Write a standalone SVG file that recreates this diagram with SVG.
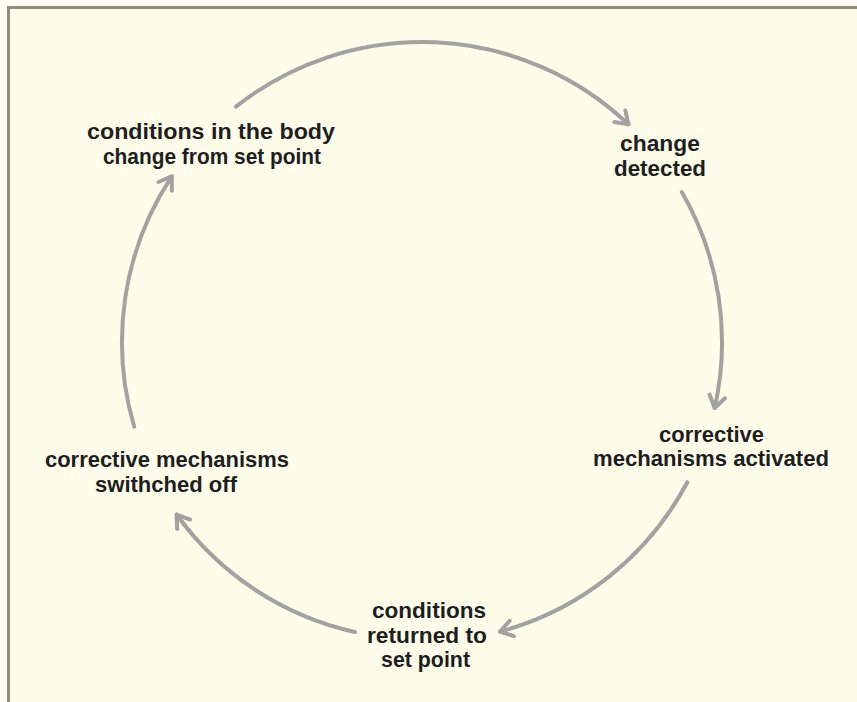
<svg xmlns="http://www.w3.org/2000/svg" width="857" height="702" viewBox="0 0 857 702">
<style>
.lbl{font-family:"Liberation Sans",Arial,sans-serif;font-weight:bold;font-size:22px;fill:#1e1e1e;text-anchor:middle}
.arc{fill:none;stroke:#a2a2a0;stroke-width:4;stroke-linecap:round}
.frame{stroke:#8e8e7c;stroke-width:3;fill:none}
</style>
<defs>
<marker id="chev" markerUnits="userSpaceOnUse" markerWidth="30" markerHeight="30" refX="0" refY="0" viewBox="-15 -15 30 30" orient="auto" overflow="visible">
<path d="M -12,-8 L 0,0 L -12,8" fill="none" stroke="#a2a2a0" stroke-width="4" stroke-linecap="round" stroke-linejoin="round"/>
</marker>
</defs>
<rect x="0" y="0" width="857" height="702" fill="#fefef4"/>
<rect x="8" y="7" width="849" height="695" fill="#fdfde9"/>
<path class="frame" d="M 8.5,702 L 8.5,7.5 L 857,7.5"/>
<g id="connectors">
<path class="arc" marker-end="url(#chev)" d="M 236,106.6 A 300 300 0 0 1 628.5,124.4"/>
<path class="arc" marker-end="url(#chev)" d="M 681.8,192 A 300 300 0 0 1 714.7,408"/>
<path class="arc" marker-end="url(#chev)" d="M 687.3,482.2 A 300 300 0 0 1 500.1,631.6"/>
<path class="arc" marker-end="url(#chev)" d="M 355,632 A 300 300 0 0 1 176.6,514.5"/>
<path class="arc" marker-end="url(#chev)" d="M 134.2,426.7 A 300 300 0 0 1 171.8,176.4"/>
</g>
<g id="node-conditions-change">
<text class="lbl" x="211" y="139" textLength="248" lengthAdjust="spacingAndGlyphs">conditions in the body</text>
<text class="lbl" x="212" y="164" textLength="218" lengthAdjust="spacingAndGlyphs">change from set point</text>
</g>
<g id="node-change-detected">
<text class="lbl" x="660" y="151" textLength="80" lengthAdjust="spacingAndGlyphs">change</text>
<text class="lbl" x="660" y="176" textLength="92" lengthAdjust="spacingAndGlyphs">detected</text>
</g>
<g id="node-mechanisms-activated">
<text class="lbl" x="711.5" y="442" textLength="105" lengthAdjust="spacingAndGlyphs">corrective</text>
<text class="lbl" x="711" y="466" textLength="236" lengthAdjust="spacingAndGlyphs">mechanisms activated</text>
</g>
<g id="node-returned">
<text class="lbl" x="429" y="618" textLength="114" lengthAdjust="spacingAndGlyphs">conditions</text>
<text class="lbl" x="427" y="643" textLength="120" lengthAdjust="spacingAndGlyphs">returned to</text>
<text class="lbl" x="425.5" y="667" textLength="89" lengthAdjust="spacingAndGlyphs">set point</text>
</g>
<g id="node-switched-off">
<text class="lbl" x="167" y="467" textLength="244" lengthAdjust="spacingAndGlyphs">corrective mechanisms</text>
<text class="lbl" x="166" y="492" textLength="142" lengthAdjust="spacingAndGlyphs">swithched off</text>
</g>
</svg>
